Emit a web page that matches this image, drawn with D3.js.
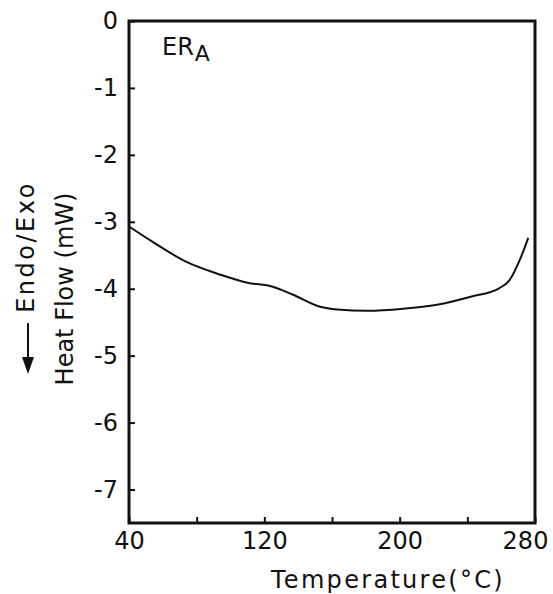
<!DOCTYPE html>
<html lang="en">
  <head>
    <meta charset="UTF-8" />
    <title>ERA heat flow</title>
    <script src="https://cdn.jsdelivr.net/npm/d3@7"></script>
    <style>
      body { margin: 0; background: #fff; }
      text { font-family: "DejaVu Sans", sans-serif; fill: #111; }
    </style>
  </head>
  <body>
    <div id="wrapper"></div>
    <script>
      // values
      const temperature = [40, 54, 74, 94, 110, 125, 137, 153, 163, 181, 202, 222, 242, 259, 265, 271, 276]
      const heatFlow = [-3.07, -3.30, -3.60, -3.79, -3.91, -3.97, -4.09, -4.27, -4.31, -4.33, -4.30, -4.24, -4.12, -3.99, -3.87, -3.57, -3.24]
      const xTicks = [40, 80, 120, 160, 200, 240, 280]
      const xLabels = [40, 120, 200, 280]
      const yTicks = [0, -1, -2, -3, -4, -5, -6, -7]

      const dms = {
        width: 553,
        height: 594,
        margin: { top: 21, left: 129, right: 18, bottom: 71 }
      }
      dms.boundedWidth = dms.width - dms.margin.left - dms.margin.right
      dms.boundedHeight = dms.height - dms.margin.top - dms.margin.bottom

      const data = temperature.map((t, i) => ({ t, v: heatFlow[i] }))

      const svg = d3.select('#wrapper').append('svg')
        .attr('width', dms.width)
        .attr('height', dms.height)
      const g = svg.append('g')
        .attr('transform', `translate(${dms.margin.left},${dms.margin.top})`)

      const xScale = d3.scaleLinear().domain([40, 280]).range([0, dms.boundedWidth])
      const yScale = d3.scaleLinear().domain([-7.5, 0]).range([dms.boundedHeight, 0])

      // inward ticks
      const xAxis = g.append('g')
        .attr('transform', `translate(0,${dms.boundedHeight})`)
        .call(d3.axisBottom(xScale).tickValues(xTicks).tickSizeInner(-6).tickSizeOuter(0)
          .tickPadding(9)
          .tickFormat(d => xLabels.includes(d) ? d : ''))
      const yAxis = g.append('g')
        .call(d3.axisLeft(yScale).tickValues(yTicks).tickSizeInner(-6).tickSizeOuter(0)
          .tickPadding(11)
          .tickFormat(d => String(d)))
      ;[xAxis, yAxis].forEach(a => {
        a.select('.domain').remove()
        a.selectAll('line').attr('stroke', '#111').attr('stroke-width', 2)
        a.selectAll('text').style('font-size', '24px').attr('fill', '#111')
      })
      // last label sits inside the page edge
      xAxis.selectAll('text').filter(d => d === 280).attr('dx', -10)

      // frame
      g.append('rect')
        .attr('width', dms.boundedWidth)
        .attr('height', dms.boundedHeight)
        .attr('fill', 'none')
        .attr('stroke', '#111')
        .attr('stroke-width', 3)

      const line = d3.line()
        .x(d => xScale(d.t))
        .y(d => yScale(d.v))
        .curve(d3.curveMonotoneX)
      g.append('path')
        .attr('d', line(data))
        .attr('fill', 'none')
        .attr('stroke', '#111')
        .attr('stroke-width', 2)

      // sample label
      const lbl = g.append('text')
        .attr('x', 33).attr('y', 34)
        .style('font-size', '24px')
      lbl.append('tspan').text('ER')
      lbl.append('tspan').text('A').attr('dy', 6).attr('dx', 1).style('font-size', '22px')

      // axis titles
      svg.append('text')
        .attr('x', 388)
        .attr('y', 588)
        .attr('text-anchor', 'middle')
        .style('font-size', '24px')
        .style('letter-spacing', '2.3px')
        .text('Temperature(°C)')

      svg.append('text')
        .attr('transform', 'translate(73,289) rotate(-90)')
        .attr('text-anchor', 'middle')
        .style('font-size', '24px')
        .text('Heat Flow (mW)')

      svg.append('text')
        .attr('transform', 'translate(34,247) rotate(-90)')
        .attr('text-anchor', 'middle')
        .style('font-size', '24px')
        .style('letter-spacing', '2.5px')
        .text('Endo/Exo')

      // arrow pointing down
      svg.append('line')
        .attr('x1', 28).attr('x2', 28)
        .attr('y1', 323).attr('y2', 362)
        .attr('stroke', '#111').attr('stroke-width', 2)
      svg.append('path')
        .attr('d', 'M22,357 L34,357 L28,374 Z')
        .attr('fill', '#111')
    </script>
  </body>
</html>
